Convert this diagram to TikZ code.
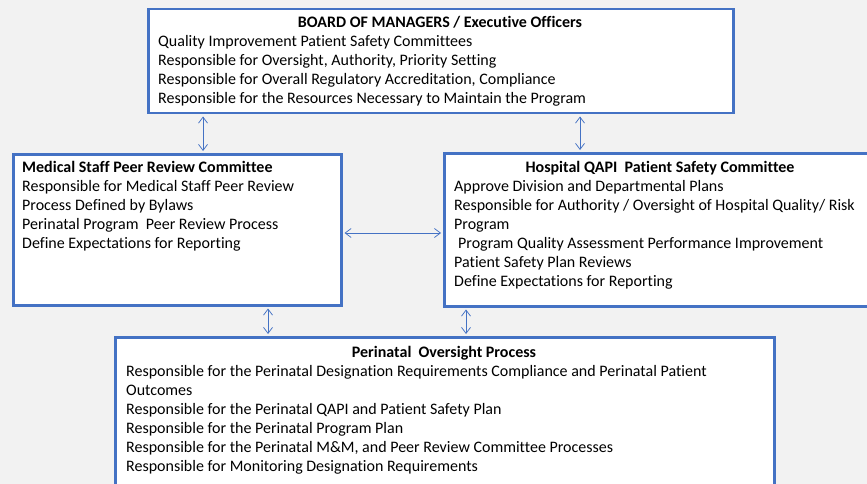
\documentclass[tikz,border=0pt]{standalone}
\usepackage{fontspec}
\setmainfont{Carlito}[Ligatures={NoCommon}]
\usetikzlibrary{arrows.meta}
\definecolor{bgc}{HTML}{F2F2F2}
\definecolor{blc}{HTML}{4472C4}
\begin{document}
\begin{tikzpicture}[x=1pt,y=-1pt,
  box/.style={draw=blc, line width=2.5pt, fill=white, inner sep=0pt, anchor=north west},
  conn/.style={draw=blc, line width=0.75pt, {Straight Barb[length=6pt,width=9pt]}-{Straight Barb[length=6pt,width=9pt]}, shorten <=2pt, shorten >=2pt},
  txt/.style={anchor=base west, inner sep=0pt, font=\fontsize{16}{19}\selectfont},
  ttl/.style={anchor=base, inner sep=0pt, font=\fontsize{16}{19}\selectfont\bfseries},
  ttll/.style={anchor=base west, inner sep=0pt, font=\fontsize{16}{19}\selectfont\bfseries}]
\useasboundingbox (0,0) rectangle (867,484);
\clip (0,0) rectangle (867,484);
\fill[bgc] (0,0) rectangle (867,484);
% boxes
\node[box, minimum width=585pt, minimum height=104pt] (board) at (147,8) {};
\node[box, minimum width=328pt, minimum height=151pt] (med) at (12,153) {};
\node[box, minimum width=437pt, minimum height=153pt] (hosp) at (443,152) {};
\node[box, minimum width=659pt, minimum height=170pt] (peri) at (114,336) {};
% board text
\node[ttl] (t0) at (440,28) {BOARD OF MANAGERS / Executive Officers};
\node[txt] (t1) at (158,47) {Quality Improvement Patient Safety Committees};
\node[txt] (t2) at (158,66) {Responsible for Oversight, Authority, Priority Setting};
\node[txt] (t3) at (158,85) {Responsible for Overall Regulatory Accreditation, Compliance};
\node[txt] (t4) at (158,104) {Responsible for the Resources Necessary to Maintain the Program};
% medical staff text
\node[ttll] (m0) at (22,172) {Medical Staff Peer Review Committee};
\node[txt] (m1) at (22,191) {Responsible for Medical Staff Peer Review};
\node[txt] (m2) at (22,210) {Process Defined by Bylaws};
\node[txt] (m3) at (22,229) {Perinatal Program\ \ Peer Review Process};
\node[txt] (m4) at (22,248) {Define Expectations for Reporting};
% hospital text
\node[ttl] (h0) at (660,172) {Hospital QAPI\ \ Patient Safety Committee};
\node[txt] (h1) at (454,191) {Approve Division and Departmental Plans};
\node[txt] (h2) at (454,210) {Responsible for Authority / Oversight of Hospital Quality/ Risk};
\node[txt] (h3) at (454,229) {Program};
\node[txt] (h4) at (458,248) {Program Quality Assessment Performance Improvement};
\node[txt] (h5) at (454,267) {Patient Safety Plan Reviews};
\node[txt] (h6) at (454,286) {Define Expectations for Reporting};
% perinatal text
\node[ttl] (p0) at (444,357) {Perinatal\ \ Oversight Process};
\node[txt] (p1) at (126,376) {Responsible for the Perinatal Designation Requirements Compliance and Perinatal Patient};
\node[txt] (p2) at (126,395) {Outcomes};
\node[txt] (p3) at (126,414) {Responsible for the Perinatal QAPI and Patient Safety Plan};
\node[txt] (p4) at (126,433) {Responsible for the Perinatal Program Plan};
\node[txt] (p5) at (126,452) {Responsible for the Perinatal M\&M, and Peer Review Committee Processes};
\node[txt] (p6) at (126,471) {Responsible for Monitoring Designation Requirements};
% connector guide coordinates
\coordinate (ca) at (203,0);
\coordinate (cb) at (580,0);
\coordinate (cc) at (0,233);
\coordinate (cd) at (268,0);
\coordinate (ce) at (466,0);
% connectors
\draw[conn] (board.south -| ca) -- (med.north -| ca);
\draw[conn] (board.south -| cb) -- (hosp.north -| cb);
\draw[conn] (med.east |- cc) -- (hosp.west |- cc);
\draw[conn] (med.south -| cd) -- (peri.north -| cd);
\draw[conn] (hosp.south -| ce) -- (peri.north -| ce);
\end{tikzpicture}
\end{document}
